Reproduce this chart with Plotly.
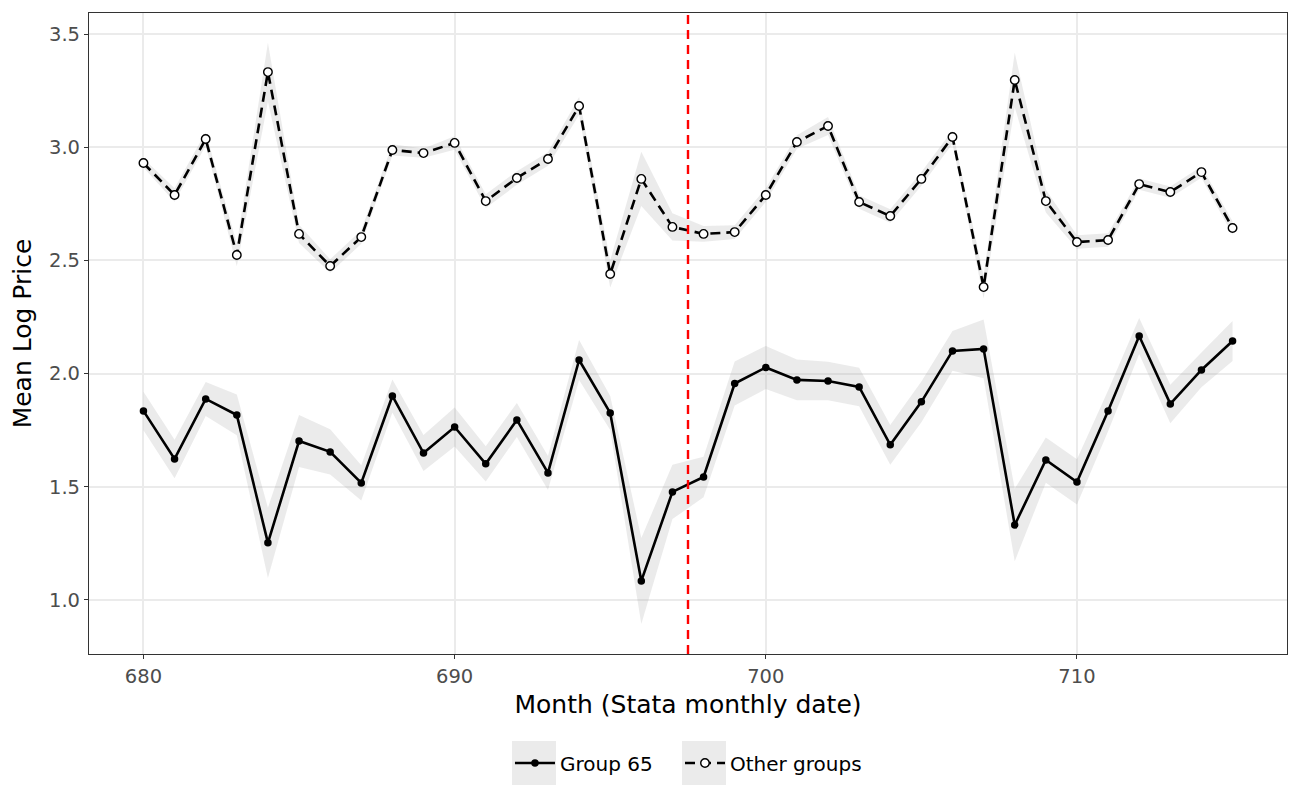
import plotly.graph_objects as go

months = list(range(680, 716))

group65 = [1.835, 1.623, 1.888, 1.817, 1.252, 1.702, 1.654, 1.517, 1.901, 1.649,
           1.764, 1.601, 1.795, 1.561, 2.060, 1.826, 1.084, 1.477, 1.543, 1.956,
           2.027, 1.972, 1.967, 1.941, 1.685, 1.875, 2.100, 2.109, 1.331, 1.618,
           1.521, 1.835, 2.166, 1.866, 2.016, 2.144]
group65_hw = [0.085, 0.085, 0.075, 0.090, 0.155, 0.115, 0.100, 0.078, 0.073, 0.080,
              0.086, 0.078, 0.075, 0.075, 0.088, 0.075, 0.190, 0.120, 0.090, 0.097,
              0.095, 0.090, 0.085, 0.085, 0.088, 0.090, 0.088, 0.130, 0.160, 0.100,
              0.100, 0.090, 0.080, 0.085, 0.077, 0.088]

other = [2.930, 2.789, 3.036, 2.524, 3.332, 2.617, 2.475, 2.603, 2.988, 2.974,
         3.019, 2.762, 2.864, 2.948, 3.182, 2.440, 2.860, 2.648, 2.617, 2.625,
         2.789, 3.023, 3.094, 2.758, 2.696, 2.860, 3.045, 2.382, 3.297, 2.762,
         2.581, 2.590, 2.837, 2.802, 2.890, 2.643]
other_hw = [0.020, 0.030, 0.030, 0.050, 0.130, 0.040, 0.030, 0.030, 0.025, 0.020,
            0.030, 0.030, 0.030, 0.030, 0.040, 0.060, 0.120, 0.060, 0.035, 0.030,
            0.030, 0.030, 0.040, 0.030, 0.030, 0.030, 0.030, 0.050, 0.120, 0.050,
            0.030, 0.030, 0.025, 0.025, 0.025, 0.030]

cutoff = 697.5
x_ticks = [680, 690, 700, 710]
y_ticks = [1.0, 1.5, 2.0, 2.5, 3.0, 3.5]
y_tick_labels = ["1.0", "1.5", "2.0", "2.5", "3.0", "3.5"]
series_names = ["Group 65", "Other groups"]

band_fill = "rgba(153,153,153,0.2)"
font = "DejaVu Sans"

fig = go.Figure()

for vals, hw in [(group65, group65_hw), (other, other_hw)]:
    upper = [v + h for v, h in zip(vals, hw)]
    lower = [v - h for v, h in zip(vals, hw)]
    fig.add_trace(go.Scatter(x=months, y=upper, mode="lines", line=dict(width=0),
                             showlegend=False, hoverinfo="skip"))
    fig.add_trace(go.Scatter(x=months, y=lower, mode="lines", line=dict(width=0),
                             fill="tonexty", fillcolor=band_fill,
                             showlegend=False, hoverinfo="skip"))

fig.add_trace(go.Scatter(x=months, y=group65, mode="lines+markers", name=series_names[0],
                         line=dict(color="black", width=2.6),
                         marker=dict(symbol="circle", size=7.5, color="black"),
                         legend="legend"))
fig.add_trace(go.Scatter(x=months, y=other, mode="lines+markers", name=series_names[1],
                         line=dict(color="black", width=2.6, dash="10px,6px"),
                         marker=dict(symbol="circle", size=8.5, color="white",
                                     line=dict(color="black", width=1.4)),
                         legend="legend2"))

fig.add_shape(type="line", x0=cutoff, x1=cutoff, y0=0, y1=1, xref="x", yref="paper",
              line=dict(color="red", width=2.4, dash="9px,6px"))

# grey backgrounds behind the legend keys (ggplot-style key fill)
for x0, x1 in [(0.3531, 0.3898), (0.4950, 0.5317)]:
    fig.add_shape(type="rect", xref="paper", yref="paper", x0=x0, x1=x1,
                  y0=-0.2044, y1=-0.1357, fillcolor="#EBEBEB", line=dict(width=0),
                  layer="below")

axis_common = dict(showgrid=True, gridcolor="#EBEBEB", gridwidth=1.6,
                   showline=True, linecolor="#333333", linewidth=1.2, mirror=True,
                   ticks="outside", ticklen=4, tickcolor="#333333", tickwidth=1.2,
                   zeroline=False, automargin=False,
                   tickfont=dict(family=font, size=19.5, color="#4D4D4D"))

legend_common = dict(orientation="h", xanchor="left", y=-0.17, yanchor="middle",
                     itemwidth=40, font=dict(family=font, size=20, color="black"),
                     bgcolor="rgba(0,0,0,0)")

fig.update_layout(
    width=1300, height=800,
    margin=dict(l=81, r=21, t=5, b=154),
    plot_bgcolor="white", paper_bgcolor="white",
    font=dict(family=font, color="black"),
    xaxis=dict(range=[678.25, 716.75], tickvals=x_ticks,
               title=dict(text="Month (Stata monthly date)", font=dict(family=font, size=25, color="black"),
                          standoff=8),
               **axis_common),
    yaxis=dict(range=[0.761, 3.593], tickvals=y_ticks, ticktext=y_tick_labels,
               title=dict(text="Mean Log Price", font=dict(family=font, size=25, color="black"),
                          standoff=10),
               **axis_common),
    legend=dict(x=0.3514, **legend_common),
    legend2=dict(x=0.4933, **legend_common),
    showlegend=True,
)

fig.write_html("out.html")
